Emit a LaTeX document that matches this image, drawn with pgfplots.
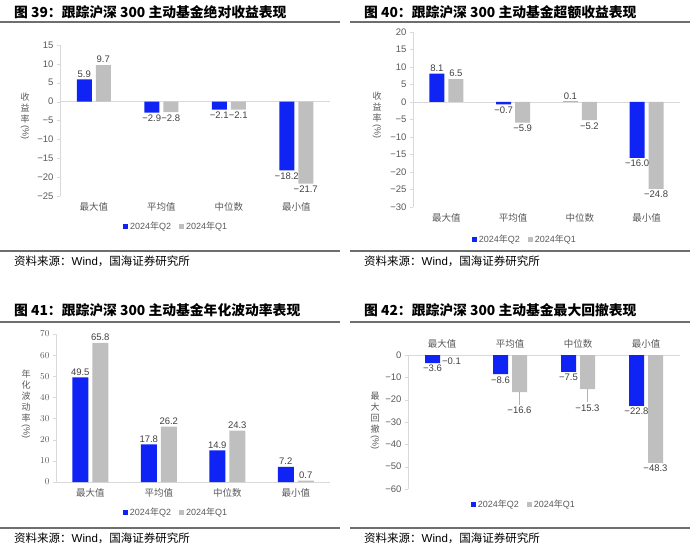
\documentclass[border=0pt]{standalone}
\usepackage{fontspec}
\usepackage{graphicx}
\usepackage{pgfplots}
\pgfplotsset{compat=1.18}
\setmainfont{Liberation Sans}
\newfontfamily\cjk{Noto Sans CJK SC}
\definecolor{qblue}{RGB}{15,35,245}
\definecolor{qgray}{RGB}{191,191,191}
\definecolor{tickc}{RGB}{89,89,89}
\definecolor{lblc}{RGB}{64,64,64}
\definecolor{linec}{RGB}{217,217,217}
\definecolor{rulec}{RGB}{110,110,110}

\newcommand{\vlab}{\pgfmathsetmacro\av{abs(\yv)}\ifdim\yv pt<0pt −\fi\pgfmathprintnumber[fixed,fixed zerofill,precision=1,assume math mode=true]{\av}}
\newcommand{\lblfont}{\fontsize{9.5}{11}\selectfont}

\pgfplotsset{
 panel/.style={
  scale only axis, clip=false,
  anchor=south west,
  xmin=-0.5, xmax=3.5,
  xtick={0,1,2,3},
  xticklabels={最大值,平均值,中位数,最小值},
  axis y line*=left,
  x axis line style={draw=none},
  y axis line style={draw=linec},
  xtick style={draw=none},
  ytick style={draw=linec},
  tick align=outside, major tick length=3pt,
  xticklabel style={font=\cjk\fontsize{9.5}{11}\selectfont, text=tickc},
  yticklabel style={font=\fontsize{9.5}{11}\selectfont, text=tickc},
  ybar=4pt, bar width=15pt,
  point meta=y,
  visualization depends on={y \as \yv},
  nodes near coords={\vlab},
  every node near coord/.append style={font=\lblfont, text=lblc, inner sep=2pt},
  legend columns=2,
  legend style={draw=none, fill=none, font=\fontsize{9}{10}\selectfont, text=tickc,
    /tikz/every even column/.append style={column sep=6pt}, anchor=center},
 },
 s1/.style={fill=qblue, draw=none,
   legend image code/.code={\fill[qblue] (0pt,-2.5pt) rectangle (5pt,2.5pt);}},
 s2/.style={fill=qgray, draw=none,
   legend image code/.code={\fill[qgray] (0pt,-2.5pt) rectangle (5pt,2.5pt);}},
}
\newcommand{\ttl}[1]{{\cjk\bfseries\fontsize{13.8}{15}\selectfont #1}}
\newcommand{\src}{{\cjk\fontsize{11.5}{13}\selectfont 资料来源：}{\fontsize{11.5}{13}\selectfont Wind}{\cjk\fontsize{11.5}{13}\selectfont ，国海证券研究所}}
\tikzset{ylchars/.style={font=\cjk\fontsize{9}{11}\selectfont, text=tickc, align=center, inner sep=0pt, anchor=north},
  ylpct/.style={font=\fontsize{9}{10}\selectfont, text=tickc, inner sep=0pt, rotate=-90, anchor=west}}

\begin{document}
\begin{tikzpicture}
\useasboundingbox (0pt,0pt) rectangle (700pt,551pt);

% ---------------- titles, rules, sources
\node[anchor=west, inner sep=0pt] at (14pt,539pt) {\ttl{图 39：跟踪沪深 300 主动基金绝对收益表现}};
\node[anchor=west, inner sep=0pt] at (364pt,539pt) {\ttl{图 40：跟踪沪深 300 主动基金超额收益表现}};
\node[anchor=west, inner sep=0pt] at (14pt,241pt) {\ttl{图 41：跟踪沪深 300 主动基金年化波动率表现}};
\node[anchor=west, inner sep=0pt] at (364pt,241pt) {\ttl{图 42：跟踪沪深 300 主动基金最大回撤表现}};
\draw[rulec, line width=1.5pt] (0pt,529pt) -- (340pt,529pt);
\draw[rulec, line width=1.5pt] (350pt,529pt) -- (690pt,529pt);
\draw[rulec, line width=1.5pt] (0pt,229pt) -- (340pt,229pt);
\draw[rulec, line width=1.5pt] (350pt,229pt) -- (690pt,229pt);
\draw[rulec, line width=1.2pt] (0pt,300pt) -- (340pt,300pt);
\draw[rulec, line width=1.2pt] (350pt,300pt) -- (690pt,300pt);
\draw[rulec, line width=1.2pt] (0pt,23pt) -- (340pt,23pt);
\draw[rulec, line width=1.2pt] (350pt,23pt) -- (690pt,23pt);
\node[anchor=west, inner sep=0pt] at (14pt,290pt) {\src};
\node[anchor=west, inner sep=0pt] at (364pt,290pt) {\src};
\node[anchor=west, inner sep=0pt] at (14pt,13pt) {\src};
\node[anchor=west, inner sep=0pt] at (364pt,13pt) {\src};

% ---------------- y labels
\node[ylchars] (yl1) at (25pt,458pt) {收\\益\\率};
\node[ylpct] at ([yshift=-2pt]yl1.south) {(\%)};
\node[ylchars] (yl2) at (377pt,459pt) {收\\益\\率};
\node[ylpct] at ([yshift=-2pt]yl2.south) {(\%)};
\node[ylchars] (yl3) at (26pt,181pt) {年\\化\\波\\动\\率};
\node[ylpct] at ([yshift=-2pt]yl3.south) {(\%)};
\node[ylchars] (yl4) at (375pt,159pt) {最\\大\\回\\撤};
\node[ylpct] at ([yshift=-2pt]yl4.south) {(\%)};

% ---------------- Panel 39
\begin{axis}[panel, at={(60pt,355pt)}, width=270pt, height=151pt,
  ymin=-25, ymax=15, ytick={-25,-20,...,15},
  yticklabels={−25,−20,−15,−10,−5,0,5,10,15},
  legend style={at={(0.43,-0.199)}}]
\draw[linec, line width=0.8pt] (axis cs:-0.5,0) -- (axis cs:3.5,0);
\addplot[s1] coordinates {(0,5.9) (1,-2.9) (2,-2.1) (3,-18.2)};
\addplot[s2] coordinates {(0,9.7) (1,-2.8) (2,-2.1) (3,-21.7)};
\addlegendentry{2024{\cjk 年}Q2}
\addlegendentry{2024{\cjk 年}Q1}
\end{axis}

% ---------------- Panel 40
\begin{axis}[panel, at={(413pt,344pt)}, width=267pt, height=175pt,
  ymin=-30, ymax=20, ytick={-30,-25,...,20},
  yticklabels={−30,−25,−20,−15,−10,−5,0,5,10,15,20},
  legend style={at={(0.419,-0.183)}}]
\draw[linec, line width=0.8pt] (axis cs:-0.5,0) -- (axis cs:3.5,0);
\addplot[s1] coordinates {(0,8.1) (1,-0.7) (2,0.1) (3,-16.0)};
\addplot[s2] coordinates {(0,6.5) (1,-5.9) (2,-5.2) (3,-24.8)};
\addlegendentry{2024{\cjk 年}Q2}
\addlegendentry{2024{\cjk 年}Q1}
\end{axis}

% ---------------- Panel 41
\begin{axis}[panel, at={(56pt,69pt)}, width=274pt, height=148pt,
  ymin=0, ymax=70, ytick={0,10,...,70}, bar width=16pt,
  legend style={at={(0.438,-0.203)}}]
\draw[linec, line width=0.8pt] (axis cs:-0.5,0) -- (axis cs:3.5,0);
\addplot[s1] coordinates {(0,49.5) (1,17.8) (2,14.9) (3,7.2)};
\addplot[s2] coordinates {(0,65.8) (1,26.2) (2,24.3) (3,0.7)};
\addlegendentry{2024{\cjk 年}Q2}
\addlegendentry{2024{\cjk 年}Q1}
\end{axis}

% ---------------- Panel 42
\begin{axis}[panel, at={(408pt,62pt)}, width=272pt, height=134pt,
  ymin=-60, ymax=0, ytick={-60,-50,...,0},
  yticklabels={−60,−50,−40,−30,−20,−10,0},
  xticklabel pos=upper,
  legend style={at={(0.426,-0.119)}}]
\draw[linec, line width=0.8pt] (axis cs:-0.5,0) -- (axis cs:3.5,0);
\addplot[s1] coordinates {(0,-3.6) (1,-8.6) (2,-7.5) (3,-22.8)};
\addplot[s2, nodes near coords={}] coordinates {(0,-0.1) (1,-16.6) (2,-15.3) (3,-48.3)};
\addlegendentry{2024{\cjk 年}Q2}
\addlegendentry{2024{\cjk 年}Q1}
\node[anchor=north, inner sep=2pt, font=\lblfont, text=lblc] at ([xshift=9.5pt]axis cs:0,-0.1) {−0.1};
\draw[gray!60] ([xshift=9.5pt]axis cs:1,-16.6) -- ([xshift=9.5pt,yshift=-13pt]axis cs:1,-16.6);
\node[anchor=north, inner sep=2pt, font=\lblfont, text=lblc] at ([xshift=9.5pt,yshift=-13pt]axis cs:1,-16.6) {−16.6};
\draw[gray!60] ([xshift=9.5pt]axis cs:2,-15.3) -- ([xshift=9.5pt,yshift=-13pt]axis cs:2,-15.3);
\node[anchor=north, inner sep=2pt, font=\lblfont, text=lblc] at ([xshift=9.5pt,yshift=-13pt]axis cs:2,-15.3) {−15.3};
\node[anchor=north, inner sep=2pt, font=\lblfont, text=lblc] at ([xshift=9.5pt]axis cs:3,-48.3) {−48.3};
\end{axis}
\end{tikzpicture}
\end{document}
